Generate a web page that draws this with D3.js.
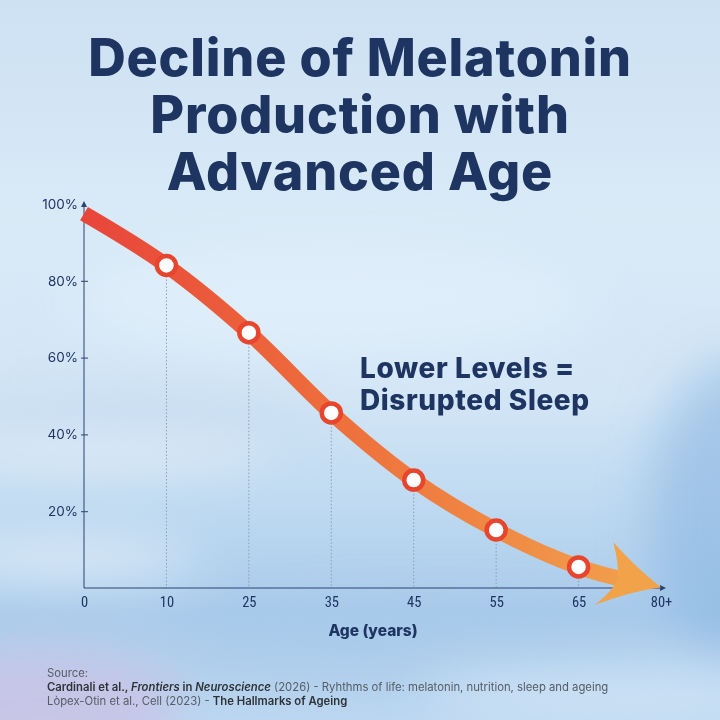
<!DOCTYPE html>
<html>
<head>
<meta charset="utf-8">
<script src="https://cdn.jsdelivr.net/npm/d3@7"></script>
<style>
  html, body { margin: 0; padding: 0; background: #d6e8f6; }
  svg { display: block; }
</style>
</head>
<body>
<div id="chart"></div>
<script>
// data
var ages = ["0", "10", "25", "35", "45", "55", "65", "80+"];
var melatonin = [97.5, 84, 66.5, 45.6, 28.1, 15.1, 5.5, 0.2];
var markerAges = ["10", "25", "35", "45", "55", "65"];
var yTicks = [20, 40, 60, 80, 100];
var titleLines = ["Decline of Melatonin", "Production with", "Advanced Age"];
var noteLines = ["Lower Levels =", "Disrupted Sleep"];

var W = 720, H = 720;
var navy = "#1e3461";

var svg = d3.select("#chart").append("svg")
    .attr("width", W)
    .attr("height", H);

var defs = svg.append("defs");

// background sky
var bg = defs.append("linearGradient").attr("id", "sky")
    .attr("x1", 0).attr("y1", 0).attr("x2", 0).attr("y2", 1);
[["0%", "#cde1f3"], ["30%", "#d9eaf7"], ["55%", "#d3e6f6"], ["72%", "#bcd8f0"],
 ["85%", "#a9cbeb"], ["100%", "#bcd7f0"]].forEach(function(s) {
    bg.append("stop").attr("offset", s[0]).attr("stop-color", s[1]);
});
var blur = defs.append("filter").attr("id", "blur")
    .attr("x", "-50%").attr("y", "-50%").attr("width", "200%").attr("height", "200%");
blur.append("feGaussianBlur").attr("stdDeviation", 25);

svg.append("rect").attr("width", W).attr("height", H).attr("fill", "url(#sky)");

var clouds = svg.append("g").attr("filter", "url(#blur)");
clouds.append("ellipse").attr("cx", 740).attr("cy", 510).attr("rx", 90).attr("ry", 150)
    .attr("fill", "#8ab5e1").attr("opacity", 0.6);
clouds.append("ellipse").attr("cx", 40).attr("cy", 705).attr("rx", 140).attr("ry", 55)
    .attr("fill", "#c9c3e6").attr("opacity", 0.9);
clouds.append("ellipse").attr("cx", 120).attr("cy", 415).attr("rx", 200).attr("ry", 14)
    .attr("fill", "#b3cfea").attr("opacity", 0.7);
clouds.append("ellipse").attr("cx", 90).attr("cy", 452).attr("rx", 180).attr("ry", 16)
    .attr("fill", "#ffffff").attr("opacity", 0.5);
clouds.append("ellipse").attr("cx", 60).attr("cy", 560).attr("rx", 140).attr("ry", 22)
    .attr("fill", "#ffffff").attr("opacity", 0.55);
clouds.append("ellipse").attr("cx", 420).attr("cy", 640).attr("rx", 260).attr("ry", 30)
    .attr("fill", "#a6c8ea").attr("opacity", 0.55);
clouds.append("ellipse").attr("cx", 620).attr("cy", 695).attr("rx", 200).attr("ry", 25)
    .attr("fill", "#d6e8f7").attr("opacity", 0.8);
clouds.append("ellipse").attr("cx", 330).attr("cy", 300).attr("rx", 260).attr("ry", 60)
    .attr("fill", "#e4f1fb").attr("opacity", 0.6);

// title
var title = svg.append("g").attr("fill", navy)
    .style("font-family", "Inter, 'Noto Sans', sans-serif")
    .style("font-weight", 800)
    .style("font-size", "52px")
    .style("letter-spacing", "0.8px")
    .attr("text-anchor", "middle");
title.selectAll("text").data(titleLines).enter().append("text")
    .attr("x", 360)
    .attr("y", function(d, i) { return 76 + i * 57; })
    .text(function(d) { return d; });

// scales
var x = d3.scalePoint().domain(ages).range([84, 661]);
var y = d3.scaleLinear().domain([0, 100]).range([588, 204]);

var chart = svg.append("g");

// dotted guides
chart.selectAll(".guide").data(markerAges).enter().append("line")
    .attr("class", "guide")
    .attr("x1", function(d) { return x(d); })
    .attr("x2", function(d) { return x(d); })
    .attr("y1", function(d) { return y(melatonin[ages.indexOf(d)]); })
    .attr("y2", y(0))
    .attr("stroke", "#8f9db3")
    .attr("stroke-width", 1)
    .attr("stroke-dasharray", "1.5,2");

// axes
var axisColor = "#2b4270";
var yAxis = d3.axisLeft(y).tickValues(yTicks).tickFormat(function(d) { return d + "%"; })
    .tickSize(0).tickPadding(6);
var yAxisG = chart.append("g").attr("transform", "translate(84,0)").call(yAxis);
yAxisG.select(".domain").remove();
yAxisG.selectAll(".tick").filter(function(d) { return d < 100; }).append("line")
    .attr("x1", -3).attr("x2", 4).attr("stroke", axisColor);
yAxisG.selectAll("text")
    .attr("fill", navy)
    .style("font-family", "Inter, 'Noto Sans', sans-serif")
    .style("font-size", "13.5px");

chart.append("line").attr("x1", 84).attr("x2", 84).attr("y1", y(0)).attr("y2", 206)
    .attr("stroke", axisColor).attr("stroke-width", 1);
chart.append("path").attr("d", "M84,201 L81,207 L87,207 Z").attr("fill", axisColor);

var xAxis = d3.axisBottom(x).tickSize(0).tickPadding(9);
var xAxisG = chart.append("g").attr("transform", "translate(0," + y(0) + ")").call(xAxis);
xAxisG.select(".domain").remove();
xAxisG.selectAll("text")
    .attr("fill", navy)
    .style("font-family", "'Roboto Condensed', Roboto, sans-serif")
    .style("font-size", "14.5px");
chart.append("line").attr("x1", 84).attr("x2", 661).attr("y1", y(0)).attr("y2", y(0))
    .attr("stroke", axisColor).attr("stroke-width", 1);
chart.append("path").attr("d", "M666," + y(0) + " L660," + (y(0) - 3) + " L660," + (y(0) + 3) + " Z")
    .attr("fill", axisColor);

chart.append("text")
    .attr("x", 373).attr("y", 636)
    .attr("text-anchor", "middle")
    .attr("fill", navy)
    .style("font-family", "Inter, 'Noto Sans', sans-serif")
    .style("font-weight", 800)
    .style("font-size", "15.5px")
    .text("Age (years)");

// curve
var grad = defs.append("linearGradient").attr("id", "curveGrad")
    .attr("gradientUnits", "userSpaceOnUse")
    .attr("x1", x("0")).attr("y1", 0).attr("x2", x("80+")).attr("y2", 0);
grad.append("stop").attr("offset", "0%").attr("stop-color", "#e8453a");
grad.append("stop").attr("offset", "45%").attr("stop-color", "#ee703c");
grad.append("stop").attr("offset", "100%").attr("stop-color", "#f2a44d");

var line = d3.line()
    .x(function(d, i) { return x(ages[i]); })
    .y(function(d) { return y(d); })
    .curve(d3.curveMonotoneX);

var curve = chart.append("path")
    .datum(melatonin)
    .attr("d", line)
    .attr("fill", "none")
    .attr("stroke", "url(#curveGrad)")
    .attr("stroke-width", 15.5);
var len = curve.node().getTotalLength();
curve.attr("stroke-dasharray", (len - 40) + "," + len);

// arrow head at end of curve
var tip = [x("80+"), y(melatonin[melatonin.length - 1])];
var back = curve.node().getPointAtLength(len - 48);
var ang = Math.atan2(tip[1] - back.y, tip[0] - back.x) * 180 / Math.PI;
chart.append("path")
    .attr("d", "M0,0 Q-26,-12 -56,-34 Q-46,-14 -44,0 Q-46,14 -61,31 Q-28,10 0,0 Z")
    .attr("transform", "translate(" + tip[0] + "," + tip[1] + ") rotate(" + ang + ")")
    .attr("fill", "#f2a248");

// markers
chart.selectAll(".marker").data(markerAges).enter().append("circle")
    .attr("class", "marker")
    .attr("cx", function(d) { return x(d); })
    .attr("cy", function(d) { return y(melatonin[ages.indexOf(d)]); })
    .attr("r", 9.5)
    .attr("fill", "#ffffff")
    .attr("stroke", "#e8452f")
    .attr("stroke-width", 4.5);

// annotation
svg.append("g").attr("fill", navy)
    .style("font-family", "Inter, 'Noto Sans', sans-serif")
    .style("font-weight", 800)
    .style("font-size", "28px")
    .style("letter-spacing", "0.6px")
    .selectAll("text").data(noteLines).enter().append("text")
    .attr("x", 360)
    .attr("y", function(d, i) { return 378 + i * 32; })
    .text(function(d) { return d; });

// source
var src = svg.append("g")
    .style("font-family", "Inter, 'Noto Sans', sans-serif")
    .style("font-size", "11.3px")
    .attr("fill", "#555d66");
src.append("text").attr("x", 47).attr("y", 677).text("Source:");
var l2 = src.append("text").attr("x", 47).attr("y", 691);
l2.append("tspan").attr("fill", "#2e3338").style("font-weight", 600).text("Cardinali et al., ");
l2.append("tspan").attr("fill", "#2e3338").style("font-weight", 600).style("font-style", "italic").text("Frontiers");
l2.append("tspan").attr("fill", "#2e3338").style("font-weight", 600).text(" in ");
l2.append("tspan").attr("fill", "#2e3338").style("font-weight", 600).style("font-style", "italic").text("Neuroscience");
l2.append("tspan").text(" (2026) - Ryhthms of life: melatonin, nutrition, sleep and ageing");
var l3 = src.append("text").attr("x", 47).attr("y", 705);
l3.append("tspan").text("Lòpex-Otin et al., Cell (2023) - ");
l3.append("tspan").attr("fill", "#2e3338").style("font-weight", 600).text("The Hallmarks of Ageing");
</script>
</body>
</html>
